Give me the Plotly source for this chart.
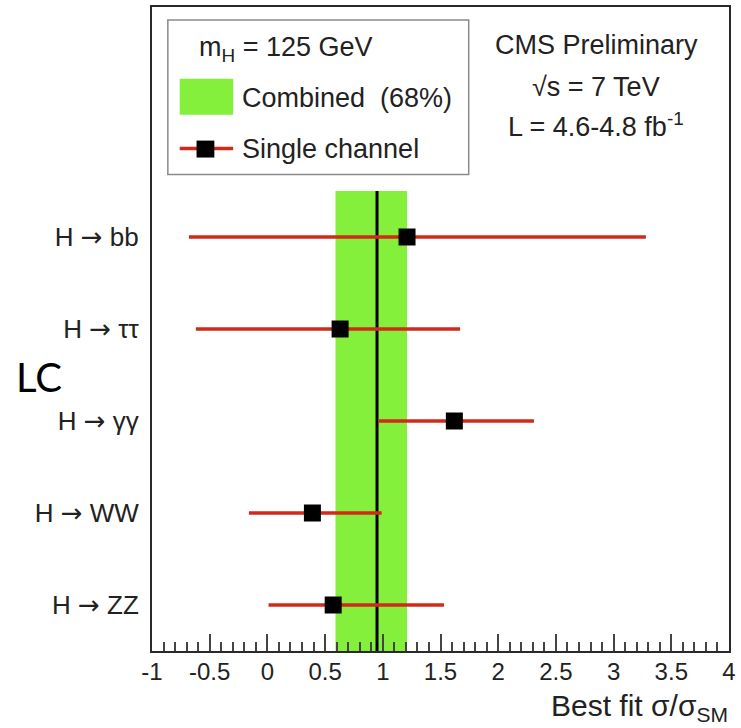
import plotly.graph_objects as go

# ---------------- data ----------------
channels = ["H → bb", "H → ττ", "H → γγ", "H → WW", "H → ZZ"]
best_fit = [1.21, 0.63, 1.62, 0.39, 0.57]
fit_low = [-0.68, -0.62, 0.96, -0.16, 0.01]
fit_high = [3.28, 1.67, 2.31, 0.99, 1.53]
combined_fit = 0.95
combined_low = 0.59
combined_high = 1.21
x_tick_vals = [-1, -0.5, 0, 0.5, 1, 1.5, 2, 2.5, 3, 3.5, 4]
x_tick_text = ["-1", "-0.5", "0", "0.5", "1", "1.5", "2", "2.5", "3", "3.5", "4"]

# ---------------- layout constants ----------------
W, H = 741, 728
ML, MR, MT, MB = 152, 6, 5, 77
PW, PH = W - ML - MR, H - MT - MB
FONT = "Liberation Sans, Arial, Helvetica, sans-serif"
TXT = "#222222"
RED = "#d22a1a"
GREEN = "#84f03c"


def px(x):
    return (x - ML) / PW


def py(y):
    return 1 - (y - MT) / PH


def label_html(name):
    # wider arrow glyph, like the ROOT #rightarrow
    return name.replace("→", '<span style="font-family:DejaVu Sans">→</span>')


n = len(channels)
ypos = [n - 1 - i for i in range(n)]
err_plus = [h - f for h, f in zip(fit_high, best_fit)]
err_minus = [f - l for f, l in zip(best_fit, fit_low)]

fig = go.Figure()
fig.add_trace(go.Scatter(
    x=best_fit, y=ypos, mode="markers",
    marker=dict(symbol="square", size=17, color="black", line=dict(width=0)),
    error_x=dict(type="data", symmetric=False, array=err_plus, arrayminus=err_minus,
                 color=RED, thickness=3.5, width=0),
    showlegend=False, hoverinfo="skip",
))

shapes = [
    dict(type="rect", xref="x", yref="y", x0=combined_low, x1=combined_high,
         y0=-0.5, y1=n - 0.5, fillcolor=GREEN, line=dict(width=0), layer="below"),
    dict(type="line", xref="x", yref="y", x0=combined_fit, x1=combined_fit,
         y0=-0.5, y1=n - 0.5, line=dict(color="black", width=3), layer="below"),
    # legend box
    dict(type="rect", xref="paper", yref="paper", x0=px(168), x1=px(472),
         y0=py(173), y1=py(18), fillcolor="white", line=dict(color="#8a8a8a", width=1.5),
         layer="above"),
    dict(type="rect", xref="paper", yref="paper", x0=px(180), x1=px(234),
         y0=py(113), y1=py(77), fillcolor=GREEN, line=dict(width=0), layer="above"),
    dict(type="line", xref="paper", yref="paper", x0=px(180), x1=px(234),
         y0=py(147), y1=py(147), line=dict(color=RED, width=3.5), layer="above"),
    dict(type="rect", xref="paper", yref="paper", x0=px(197), x1=px(215),
         y0=py(156), y1=py(139), fillcolor="black", line=dict(width=0), layer="above"),
]


def ann(text, x, y, size=27, xanchor="left", family=FONT, color=TXT):
    return dict(text=text, xref="paper", yref="paper", x=px(x), y=py(y),
                xanchor=xanchor, yanchor="middle", showarrow=False,
                font=dict(family=family, size=size, color=color))


annotations = [
    ann("m<sub>H</sub> = 125 GeV", 197, 47),
    ann("Combined\u00a0\u00a0(68%)", 241, 96),
    ann("Single channel", 241, 147),
    ann("CMS Preliminary", 601, 43, xanchor="center"),
    ann("√s = 7 TeV", 601, 85, xanchor="center"),
    ann("L = 4.6-4.8 fb<sup>-1</sup>", 601, 123, xanchor="center"),
    ann("Best fit σ/σ<sub>SM</sub>", 736, 708, size=30, xanchor="right"),
    ann("LC", 13, 376, size=40, family="Lato, Open Sans, sans-serif", color="black"),
]

fig.update_layout(
    width=W, height=H,
    margin=dict(l=ML, r=MR, t=MT, b=MB),
    paper_bgcolor="white", plot_bgcolor="white",
    font=dict(family=FONT, color=TXT),
    shapes=shapes, annotations=annotations,
    showlegend=False,
)
fig.update_xaxes(
    range=[-1, 4], tickmode="array", tickvals=x_tick_vals, ticktext=x_tick_text,
    ticks="inside", ticklen=17, tickwidth=1.5, tickcolor="#444",
    minor=dict(tickmode="linear", tick0=-1, dtick=0.1, ticks="inside",
               ticklen=9, tickwidth=1.5, tickcolor="#444", showgrid=False),
    showline=True, linecolor="#2a2a2a", linewidth=2, mirror=True,
    showgrid=False, zeroline=False,
    tickfont=dict(family=FONT, size=24, color=TXT), ticklabelstandoff=-2,
)
fig.update_yaxes(
    range=[-0.5, 6.5], tickmode="array", tickvals=ypos,
    ticktext=[label_html(c) for c in channels],
    ticks="", showline=True, linecolor="#2a2a2a", linewidth=2, mirror=True,
    showgrid=False, zeroline=False,
    tickfont=dict(family=FONT, size=26, color=TXT), ticklabelstandoff=6,
)

fig.write_html("out.html")
